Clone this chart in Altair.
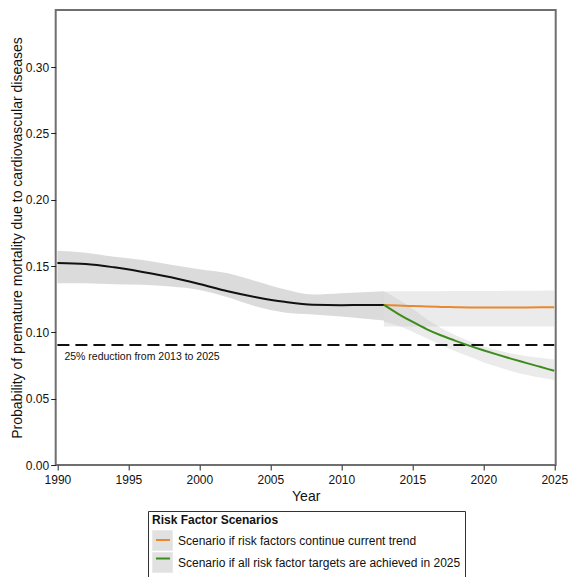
import altair as alt
import pandas as pd

# Observed probability of premature CVD mortality, 1990-2013
hist_years = [1990, 1992, 1994, 1996, 1998, 2000, 2002, 2004, 2006, 2008, 2010, 2013]
hist_mid = [0.1522, 0.1515, 0.1490, 0.1455, 0.1415, 0.1365, 0.1310, 0.1265, 0.1230, 0.1208, 0.1205, 0.1207]
hist_lo = [0.1370, 0.1370, 0.1362, 0.1358, 0.1345, 0.1320, 0.1265, 0.1195, 0.1150, 0.1135, 0.1120, 0.1090]
hist_hi = [0.1615, 0.1600, 0.1570, 0.1545, 0.1510, 0.1475, 0.1445, 0.1385, 0.1325, 0.1285, 0.1295, 0.1310]

# Projections, 2013-2025
proj_years = [2013, 2014, 2015, 2016, 2017, 2018, 2019, 2020, 2021, 2022, 2023, 2024, 2025]
trend_mid = [0.1207, 0.1202, 0.1198, 0.1195, 0.1192, 0.1190, 0.1188, 0.1187, 0.1187, 0.1187, 0.1188, 0.1189, 0.1190]
trend_lo = [0.1045, 0.1045, 0.1045, 0.1045, 0.1045, 0.1045, 0.1045, 0.1045, 0.1045, 0.1045, 0.1045, 0.1045, 0.1045]
trend_hi = [0.1308, 0.1309, 0.1309, 0.1310, 0.1310, 0.1311, 0.1311, 0.1312, 0.1312, 0.1313, 0.1313, 0.1314, 0.1315]
target_mid = [0.1207, 0.1140, 0.1080, 0.1025, 0.0978, 0.0938, 0.0900, 0.0865, 0.0832, 0.0800, 0.0770, 0.0740, 0.0710]
target_lo = [0.1080, 0.1050, 0.1005, 0.0955, 0.0905, 0.0860, 0.0817, 0.0775, 0.0740, 0.0707, 0.0680, 0.0660, 0.0640]
target_hi = [0.1310, 0.1250, 0.1180, 0.1100, 0.1035, 0.0980, 0.0935, 0.0895, 0.0865, 0.0840, 0.0822, 0.0808, 0.0795]

scenario_labels = [
    "Scenario if risk factors continue current trend",
    "Scenario if all risk factor targets are achieved in 2025",
]
scenario_colors = ["#e8892f", "#3c8c1c"]

x_ticks = [1990, 1995, 2000, 2005, 2010, 2015, 2020, 2025]
y_ticks = [0.0, 0.05, 0.10, 0.15, 0.20, 0.25, 0.30]

# 25% reduction relative to the 2013 level
target_level = hist_mid[-1] * 0.75
target_text = "25% reduction from 2013 to 2025"

FONT = "Liberation Sans"

hist = pd.DataFrame({"year": hist_years, "mid": hist_mid, "lo": hist_lo, "hi": hist_hi})
proj = pd.concat(
    [
        pd.DataFrame({"year": proj_years, "mid": trend_mid, "lo": trend_lo, "hi": trend_hi,
                      "scenario": scenario_labels[0]}),
        pd.DataFrame({"year": proj_years, "mid": target_mid, "lo": target_lo, "hi": target_hi,
                      "scenario": scenario_labels[1]}),
    ],
    ignore_index=True,
)
proj["band"] = proj["scenario"]
ref = pd.DataFrame({"start": [1990], "end": [2025], "level": [target_level], "label": [target_text]})

x_scale = alt.Scale(domain=[1989.88, 2025.1], nice=False, zero=False)
y_scale = alt.Scale(domain=[0, 0.343], nice=False)

x_axis = alt.Axis(
    values=x_ticks, format="d", title="Year", grid=False, domain=False,
    tickSize=5, tickColor="#222", labelPadding=4, labelFontSize=12, labelColor="#111",
    titleFontSize=14, titleFontWeight="normal", titleColor="#111",
    titleX=250, titleY=35, titleBaseline="alphabetic",
)
y_axis = alt.Axis(
    values=y_ticks, format=".2f", grid=False, domain=False,
    title="Probability of premature mortality due to cardiovascular diseases",
    tickSize=5, tickColor="#222", labelPadding=2, labelFontSize=12, labelColor="#111",
    titleFontSize=14, titleFontWeight="normal", titleColor="#111",
    titleX=-34, titleY=227.5, titleBaseline="alphabetic",
)

LEG_X, LEG_Y = 92.3, 501
legend_common = dict(
    orient="none", legendX=LEG_X,
    labelFontSize=12, labelFont=FONT, labelOffset=5, labelLimit=0,
    titleFontSize=12, titleFont=FONT, titleFontWeight="bold",
    titlePadding=3, padding=4,
)

hist_band = alt.Chart(hist).mark_area(color="#bdbdbd", opacity=0.55, interpolate="monotone").encode(
    x=alt.X("year:Q", scale=x_scale, axis=x_axis),
    y=alt.Y("lo:Q", scale=y_scale, axis=y_axis),
    y2="hi:Q",
)

# band swatches: grey squares that sit behind the line swatches
proj_band = alt.Chart(proj).mark_area(opacity=0.3, interpolate="monotone").encode(
    x=alt.X("year:Q", scale=x_scale),
    y=alt.Y("lo:Q", scale=y_scale),
    y2="hi:Q",
    fill=alt.Fill(
        "band:N", sort=scenario_labels,
        scale=alt.Scale(range=["#bdbdbd", "#bdbdbd"]),
        legend=alt.Legend(
            title="Risk Factor Scenarios", legendY=LEG_Y,
            symbolType="square", symbolSize=420, symbolOpacity=0.45,
            symbolStrokeWidth=0, labelColor="#111", titleColor="#111",
            rowPadding=1, strokeColor="#333", **legend_common,
        ),
    ),
)

ref_rule = alt.Chart(ref).mark_rule(color="#111", strokeWidth=2, strokeDash=[12, 6]).encode(
    x=alt.X("start:Q", scale=x_scale), x2="end:Q", y=alt.Y("level:Q", scale=y_scale)
)
ref_text = alt.Chart(ref).mark_text(
    align="left", baseline="alphabetic", dx=7, dy=15, fontSize=10.5, font=FONT, color="#111"
).encode(x=alt.X("start:Q", scale=x_scale), y=alt.Y("level:Q", scale=y_scale), text="label:N")

hist_line = alt.Chart(hist).mark_line(color="#111", strokeWidth=2, interpolate="monotone").encode(
    x=alt.X("year:Q", scale=x_scale), y=alt.Y("mid:Q", scale=y_scale)
)

# line swatches: same layout as the band legend, labels left blank
proj_line = alt.Chart(proj).mark_line(strokeWidth=2, interpolate="monotone").encode(
    x=alt.X("year:Q", scale=x_scale),
    y=alt.Y("mid:Q", scale=y_scale),
    stroke=alt.Stroke(
        "scenario:N", sort=scenario_labels,
        scale=alt.Scale(range=scenario_colors),
        legend=alt.Legend(
            title=" ", labelExpr="' '", legendY=LEG_Y + 2,
            symbolType="stroke", symbolSize=196, symbolStrokeWidth=2,
            symbolOffset=3, rowPadding=4.5, **legend_common,
        ),
    ),
)

chart = (
    alt.layer(hist_band, proj_band, ref_rule, ref_text, hist_line, proj_line)
    .resolve_legend(fill="independent", stroke="independent")
    .properties(
        width=500, height=455,
        padding={"left": 55.7, "top": 10, "right": 13.3, "bottom": 112},
        autosize=alt.AutoSizeParams(type="none"),
        background="white",
    )
    .configure_view(stroke="#6f6f6f", strokeWidth=2)
    .configure_axis(labelFont=FONT, titleFont=FONT)
    .configure_text(font=FONT)
)

chart.save("out.html", embed_options={"renderer": "svg", "actions": False})
